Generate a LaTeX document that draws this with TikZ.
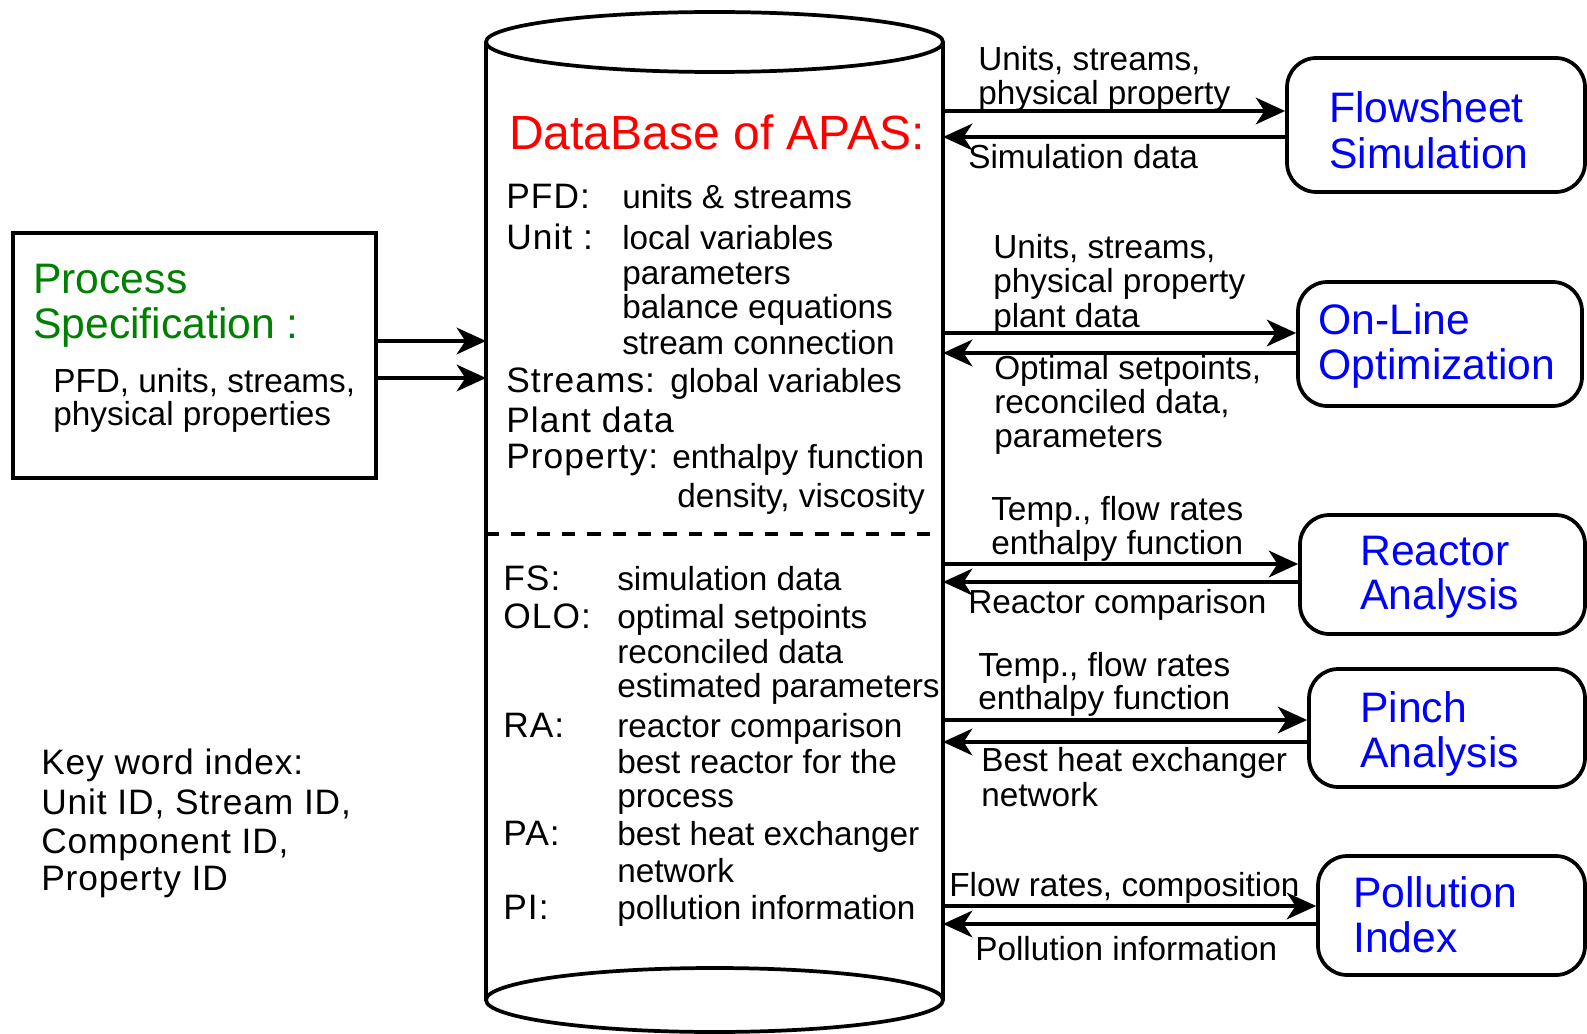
\documentclass[tikz,border=0pt]{standalone}
\usepackage{fontspec}
\setmainfont{Liberation Sans}
\usetikzlibrary{arrows.meta,fit}
\definecolor{tred}{RGB}{255,0,0}
\definecolor{tgreen}{RGB}{0,128,0}
\definecolor{tblue}{RGB}{0,0,255}
\begin{document}
\begin{tikzpicture}[x=0.75pt,y=-0.75pt,
  lbl/.style={anchor=base west,inner sep=0pt,font=\fontsize{25}{29}\selectfont},
  hdr/.style={anchor=base west,inner sep=0pt,font=\fontsize{26.5}{30}\selectfont\addfontfeature{LetterSpace=3}},
  keyw/.style={anchor=base west,inner sep=0pt,font=\fontsize{26.5}{30}\selectfont\addfontfeature{LetterSpace=2.5}},
  ttl/.style={anchor=base west,inner sep=0pt,font=\fontsize{32}{36}\selectfont,text=tblue},
  gttl/.style={anchor=base west,inner sep=0pt,font=\fontsize{32}{36}\selectfont,text=tgreen},
  rbox/.style={draw,line width=2.8pt,rounded corners=22pt,inner sep=0pt},
  sbox/.style={draw,line width=2.8pt,inner sep=0pt},
  cyl/.style={line width=2.8pt},
  arr/.style={line width=2.8pt,-{Stealth[length=22pt,width=20pt,inset=6.5pt]}}]
\useasboundingbox (0,0) rectangle (1587,1034);

% ---------- cylinder ----------
\draw[cyl] (486,42) -- (486,1000);
\draw[cyl] (943,42) -- (943,1000);
\draw[cyl] (714.5,42) ellipse [x radius=228.5, y radius=30];
\draw[cyl] (714.5,1000) ellipse [x radius=228.5, y radius=32];
\draw[line width=2.8pt,dash pattern=on 10pt off 9pt] (486,534) -- (943,534);

\coordinate (c1o) at (943,111); \coordinate (c1i) at (943,137);
\coordinate (c2o) at (943,333); \coordinate (c2i) at (943,353);
\coordinate (c3o) at (943,564); \coordinate (c3i) at (943,582);
\coordinate (c4o) at (943,720); \coordinate (c4i) at (943,742);
\coordinate (c5o) at (943,906); \coordinate (c5i) at (943,924);
\coordinate (cl1) at (486,341); \coordinate (cl2) at (486,378);

% cylinder text
\node[anchor=base west,inner sep=0pt,font=\fontsize{36}{40}\selectfont,text=tred] (dbt) at (509,150) {DataBase of APAS:};
\node[hdr] (t01) at (506,209) {PFD:};
\node[lbl] (t02) at (622,209) {units \& streams};
\node[hdr] (t03) at (506,249) {Unit :};
\node[lbl] (t04) at (622,249) {local variables};
\node[lbl] (t05) at (622,284) {parameters};
\node[lbl] (t06) at (622,318) {balance equations};
\node[lbl] (t07) at (622,354) {stream connection};
\node[hdr] (t08) at (506,392) {Streams:};
\node[lbl] (t09) at (670,392) {global variables};
\node[hdr] (t10) at (506,432) {Plant data};
\node[hdr] (t11) at (506,468) {Property:};
\node[lbl] (t12) at (672,468) {enthalpy function};
\node[lbl] (t13) at (677,507) {density, viscosity};

\node[hdr] (b01) at (503,590) {FS:};
\node[lbl] (b02) at (617,590) {simulation data};
\node[hdr] (b03) at (503,628) {OLO:};
\node[lbl] (b04) at (617,628) {optimal setpoints};
\node[lbl] (b05) at (617,663) {reconciled data};
\node[lbl] (b06) at (617,697) {estimated parameters};
\node[hdr] (b07) at (503,737) {RA:};
\node[lbl] (b08) at (617,737) {reactor comparison};
\node[lbl] (b09) at (617,773) {best reactor for the};
\node[lbl] (b10) at (617,807) {process};
\node[hdr] (b11) at (503,845) {PA:};
\node[lbl] (b12) at (617,845) {best heat exchanger};
\node[lbl] (b13) at (617,882) {network};
\node[hdr] (b14) at (503,919) {PI:};
\node[lbl] (b15) at (617,919) {pollution information};

% ---------- process specification ----------
\node[sbox,fit={(13,233) (376,478)}] (ps) {};
\node[gttl] (ps1) at (33,293) {Process};
\node[gttl] (ps2) at (33,338) {Specification :};
\node[lbl] (ps3) at (53,392) {PFD, units, streams,};
\node[lbl] (ps4) at (53,425) {physical properties};
\draw[arr] (ps.east |- cl1) -- (cl1);
\draw[arr] (ps.east |- cl2) -- (cl2);

% ---------- key word index ----------
\node[keyw] (k1) at (41,774) {Key word index:};
\node[keyw] (k2) at (41,814) {Unit ID, Stream ID,};
\node[keyw] (k3) at (41,853) {Component ID,};
\node[keyw] (k4) at (41,890) {Property ID};

% ---------- right boxes ----------
\node[rbox,fit={(1287,58) (1585,192)}] (fs) {};
\node[ttl] (fs1) at (1329,123) {Flowsheet};
\node[ttl] (fs2) at (1329,169) {Simulation};
\node[rbox,fit={(1298,282) (1582,406)}] (olo) {};
\node[ttl] (olo1) at (1318,334) {On-Line};
\node[ttl] (olo2) at (1318,379) {Optimization};
\node[rbox,fit={(1300,515) (1585,634)}] (ra) {};
\node[ttl] (ra1) at (1360,565) {Reactor};
\node[ttl] (ra2) at (1360,609) {Analysis};
\node[rbox,fit={(1309,669) (1585,787)}] (pa) {};
\node[ttl] (pa1) at (1360,722) {Pinch};
\node[ttl] (pa2) at (1360,767) {Analysis};
\node[rbox,fit={(1318,856) (1585,975)}] (pi) {};
\node[ttl] (pi1) at (1353,907) {Pollution};
\node[ttl] (pi2) at (1353,952) {Index};

% ---------- arrows ----------
\draw[arr] (c1o) -- (fs.west |- c1o);
\draw[arr] (fs.west |- c1i) -- (c1i);
\draw[arr] (c2o) -- (olo.west |- c2o);
\draw[arr] (olo.west |- c2i) -- (c2i);
\draw[arr] (c3o) -- (ra.west |- c3o);
\draw[arr] (ra.west |- c3i) -- (c3i);
\draw[arr] (c4o) -- (pa.west |- c4o);
\draw[arr] (pa.west |- c4i) -- (c4i);
\draw[arr] (c5o) -- (pi.west |- c5o);
\draw[arr] (pi.west |- c5i) -- (c5i);

% ---------- arrow labels ----------
\node[lbl] (l11) at (978,71) {Units, streams,};
\node[lbl] (l12) at (978,105) {physical property};
\node[lbl] (l13) at (968,169) {Simulation data};
\node[lbl] (l21) at (993,258) {Units, streams,};
\node[lbl] (l22) at (993,292) {physical property};
\node[lbl] (l23) at (993,327) {plant data};
\node[lbl] (l24) at (994,379) {Optimal setpoints,};
\node[lbl] (l25) at (994,413) {reconciled data,};
\node[lbl] (l26) at (994,447) {parameters};
\node[lbl] (l31) at (991,520) {Temp., flow rates};
\node[lbl] (l32) at (991,554) {enthalpy function};
\node[lbl] (l33) at (968,613) {Reactor comparison};
\node[lbl] (l41) at (978,676) {Temp., flow rates};
\node[lbl] (l42) at (978,709) {enthalpy function};
\node[lbl] (l43) at (981,771) {Best heat exchanger};
\node[lbl] (l44) at (981,806) {network};
\node[lbl] (l51) at (949,896) {Flow rates, composition};
\node[lbl] (l52) at (975,960) {Pollution information};
\end{tikzpicture}
\end{document}
